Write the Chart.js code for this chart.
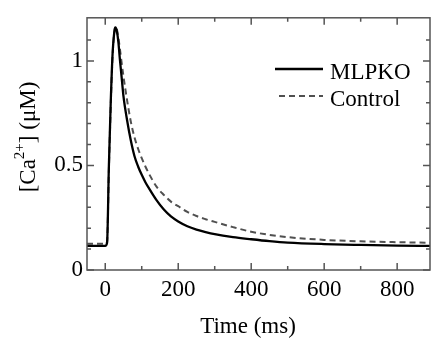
<!DOCTYPE html>
<html>
<head>
<meta charset="utf-8">
<script src="https://cdn.jsdelivr.net/npm/chart.js@4/dist/chart.umd.min.js"></script>
<style>
  html, body { margin: 0; padding: 0; background: #fff; }
  #wrap { width: 431px; height: 340px; }
</style>
</head>
<body>
<div id="wrap"><canvas id="chart" width="431" height="340"></canvas></div>
<script>
// time points (ms) and [Ca2+] (uM)
const timeMs = [-50, 0, 5, 10, 15, 20, 25, 28, 32, 36, 40, 45, 50, 60, 70, 80, 90, 100, 110, 120, 140, 160, 180, 200, 225, 250, 275, 300, 350, 400, 450, 500, 600, 700, 800, 890];
const mlpko = [0.115, 0.115, 0.13, 0.50, 0.80, 1.03, 1.14, 1.16, 1.14, 1.09, 1.01, 0.92, 0.83, 0.715, 0.62, 0.545, 0.495, 0.455, 0.42, 0.39, 0.335, 0.29, 0.256, 0.232, 0.209, 0.193, 0.181, 0.171, 0.157, 0.147, 0.138, 0.131, 0.124, 0.12, 0.117, 0.115];
const control = [0.125, 0.125, 0.135, 0.48, 0.78, 1.02, 1.14, 1.165, 1.15, 1.11, 1.06, 0.99, 0.925, 0.81, 0.71, 0.635, 0.58, 0.535, 0.495, 0.46, 0.40, 0.36, 0.327, 0.305, 0.278, 0.258, 0.243, 0.230, 0.205, 0.183, 0.168, 0.157, 0.144, 0.137, 0.133, 0.130];
const seriesNames = ['MLPKO', 'Control'];

const xMajor = [0, 200, 400, 600, 800];
const xMinor = [100, 300, 500, 700];
const yMajor = [0, 0.5, 1];
const yMinor = [0.1, 0.2, 0.3, 0.4, 0.6, 0.7, 0.8, 0.9, 1.1];

const FONT = "'Liberation Serif', 'Times New Roman', serif";
const AXIS = '#555';

function pts(ys) {
  return timeMs.map((t, i) => ({ x: t, y: ys[i] }));
}

const framePlugin = {
  id: 'frame',
  afterDatasetsDraw(chart) {
    const { ctx, chartArea: a, scales } = chart;
    const x = scales.x, y = scales.y;
    ctx.save();
    ctx.strokeStyle = AXIS;
    ctx.lineWidth = 1.5;
    ctx.strokeRect(a.left, a.top, a.right - a.left, a.bottom - a.top);

    ctx.beginPath();
    const xt = (vals, len) => vals.forEach((v) => {
      const px = x.getPixelForValue(v);
      ctx.moveTo(px, a.bottom); ctx.lineTo(px, a.bottom - len);
      ctx.moveTo(px, a.top); ctx.lineTo(px, a.top + len);
    });
    const yt = (vals, len) => vals.forEach((v) => {
      const py = y.getPixelForValue(v);
      ctx.moveTo(a.left, py); ctx.lineTo(a.left + len, py);
      ctx.moveTo(a.right, py); ctx.lineTo(a.right - len, py);
    });
    xt(xMajor, 7); xt(xMinor, 4);
    yt(yMajor, 7); yt(yMinor, 4);
    ctx.stroke();

    // legend
    ctx.fillStyle = '#000';
    ctx.font = '23px ' + FONT;
    ctx.textBaseline = 'alphabetic';
    ctx.textAlign = 'left';
    chart.data.datasets.forEach((ds, i) => {
      const ly = 69 + i * 27;
      ctx.beginPath();
      ctx.strokeStyle = ds.borderColor;
      ctx.lineWidth = ds.borderWidth;
      ctx.setLineDash(ds.borderDash || []);
      ctx.moveTo(i === 0 ? 275 : 279, ly);
      ctx.lineTo(323, ly);
      ctx.stroke();
      ctx.setLineDash([]);
      ctx.fillText(ds.label, 330, ly + 10);
    });

    // x title
    ctx.textAlign = 'center';
    ctx.fillText('Time (ms)', 248, 333);

    // y title with superscript
    ctx.translate(35, 137);
    ctx.rotate(-Math.PI / 2);
    const big = '23px ' + FONT, small = '15px ' + FONT;
    const parts = [['[Ca', big, 0], ['2+', small, -11], ['] (\u03bcM)', big, 0]];
    let w = 0;
    parts.forEach(([s, f]) => { ctx.font = f; w += ctx.measureText(s).width; });
    let cx = -w / 2;
    ctx.textAlign = 'left';
    parts.forEach(([s, f, dy]) => {
      ctx.font = f;
      ctx.fillText(s, cx, dy);
      cx += ctx.measureText(s).width;
    });
    ctx.restore();
  }
};

function draw() {
  new Chart(document.getElementById('chart'), {
    type: 'line',
    data: {
      datasets: [
        {
          label: seriesNames[0],
          data: pts(mlpko),
          borderColor: '#000',
          borderWidth: 2.3,
          pointRadius: 0,
          cubicInterpolationMode: 'monotone',
          order: 0,
        },
        {
          label: seriesNames[1],
          data: pts(control),
          borderColor: '#505050',
          borderWidth: 2,
          borderDash: [6, 4],
          pointRadius: 0,
          cubicInterpolationMode: 'monotone',
          order: 1,
        },
      ],
    },
    options: {
      responsive: false,
      animation: false,
      layout: { padding: { top: 7, right: 1, left: 0, bottom: 0 } },
      plugins: { legend: { display: false }, tooltip: { enabled: false } },
      scales: {
        x: {
          type: 'linear',
          min: -50,
          max: 890,
          afterFit: (s) => { s.height = 70; },
          afterBuildTicks: (s) => { s.ticks = xMajor.map((v) => ({ value: v })); },
          grid: { drawOnChartArea: false, drawTicks: false, color: 'transparent' },
          border: { display: false },
          ticks: { color: '#000', padding: 6, font: { family: FONT, size: 23 } },
        },
        y: {
          min: 0,
          max: 1.206,
          afterFit: (s) => { s.width = 87; },
          afterBuildTicks: (s) => { s.ticks = yMajor.map((v) => ({ value: v })); },
          grid: { drawOnChartArea: false, drawTicks: false, color: 'transparent' },
          border: { display: false },
          ticks: { color: '#000', padding: 4, font: { family: FONT, size: 23 }, callback: (v) => String(v) },
        },
      },
    },
    plugins: [framePlugin],
  });
}

document.fonts.load("23px 'Liberation Serif'").then(draw, draw);
</script>
</body>
</html>
